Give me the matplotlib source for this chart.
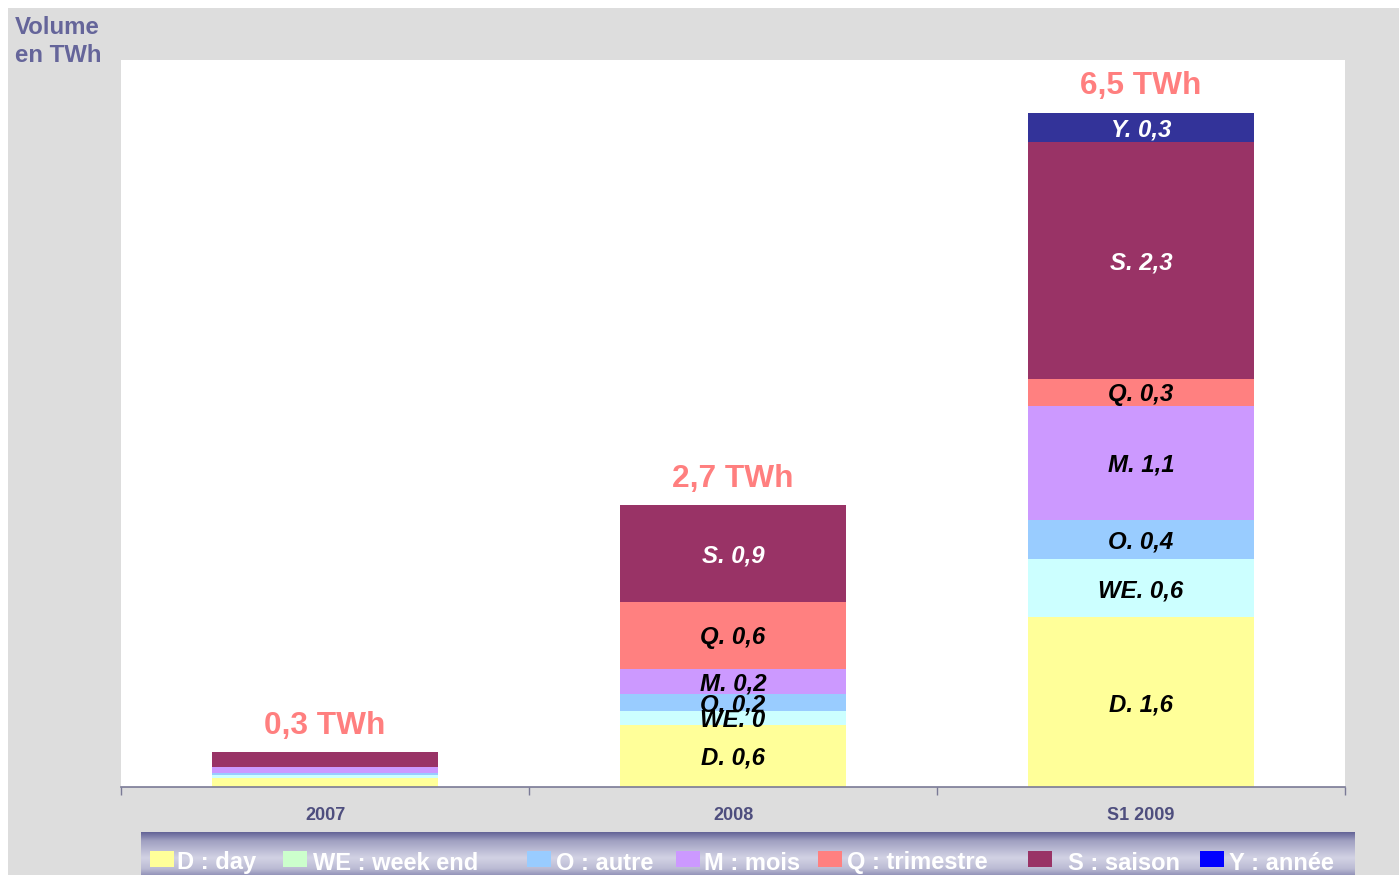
import numpy as np
import matplotlib
matplotlib.use("Agg")
import matplotlib.pyplot as plt
from matplotlib.patches import Rectangle

plt.rcParams['font.family'] = ['Liberation Sans', 'DejaVu Sans']

# ---------------- data ----------------
categories = ["2007", "2008", "S1 2009"]
segments = ["D", "WE", "O", "M", "Q", "S", "Y"]
values = {
    "D":  [0.090, 0.60, 1.64],
    "WE": [0.026, 0.135, 0.56],
    "O":  [0.019, 0.165, 0.38],
    "M":  [0.058, 0.24, 1.10],
    "Q":  [0.000, 0.65, 0.26],
    "S":  [0.145, 0.93, 2.29],
    "Y":  [0.000, 0.00, 0.28],
}
seg_labels = {
    "D":  [None, "D. 0,6", "D. 1,6"],
    "WE": [None, "WE. 0", "WE. 0,6"],
    "O":  [None, "O. 0,2", "O. 0,4"],
    "M":  [None, "M. 0,2", "M. 1,1"],
    "Q":  [None, "Q. 0,6", "Q. 0,3"],
    "S":  [None, "S. 0,9", "S. 2,3"],
    "Y":  [None, None, "Y. 0,3"],
}
total_labels = ["0,3 TWh", "2,7 TWh", "6,5 TWh"]
legend_labels = ["D : day", "WE : week end", "O : autre", "M : mois",
                 "Q : trimestre", "S : saison", "Y : année"]

bar_colors = {"D": "#FFFF99", "WE": "#CCFFFF", "O": "#99CCFF", "M": "#CC99FF",
              "Q": "#FF8080", "S": "#993366", "Y": "#333399"}
legend_colors = ["#FFFF99", "#CCFFCC", "#99CCFF", "#CC99FF", "#FF8080", "#993366", "#0000FF"]
label_colors = {"S": "white", "Y": "white"}

# ---------------- figure ----------------
W, H = 1399, 875
fig = plt.figure(figsize=(W / 100, H / 100), dpi=100)
fig.patch.set_facecolor("white")
fig.add_artist(Rectangle((8 / W, 0), 1 - 8 / W, (H - 8) / H, transform=fig.transFigure,
                         facecolor="#DDDDDD", edgecolor="none", zorder=0))

ax = fig.add_axes([121 / W, (H - 787) / H, (1345 - 121) / W, (787 - 60) / H])
ax.set_facecolor("white")
x = np.arange(len(categories))
bottom = np.zeros(len(categories))
width = 0.556
for seg in segments:
    v = np.array(values[seg])
    ax.bar(x, v, width, bottom=bottom, color=bar_colors[seg], edgecolor="none", zorder=2)
    for i in range(len(categories)):
        lab = seg_labels[seg][i]
        if lab:
            ax.annotate(lab, (x[i], bottom[i] + v[i] / 2), xytext=(0, -1.8),
                        textcoords="offset points", ha="center", va="center",
                        fontsize=17.3, fontweight="bold", fontstyle="italic",
                        color=label_colors.get(seg, "black"), zorder=3)
    bottom = bottom + v

for i in range(len(categories)):
    ax.annotate(total_labels[i], (x[i], bottom[i]), xytext=(0, 19),
                textcoords="offset points", ha="center", va="center",
                fontsize=22.8, fontweight="bold", color="#FF7F7F")

ax.set_xlim(-0.5, len(categories) - 0.5)
ax.set_ylim(0, 7.02)
for s in ["top", "right", "left"]:
    ax.spines[s].set_visible(False)
ax.spines["bottom"].set_color("#7A7A96")
ax.spines["bottom"].set_linewidth(1.2)
ax.set_yticks([])
ax.set_xticks(np.arange(-0.5, len(categories)), labels=[""] * (len(categories) + 1))
ax.tick_params(axis="x", which="major", length=6, color="#7A7A96", width=1)
ax.set_xticks(x, minor=True)
ax.set_xticklabels(categories, minor=True, fontsize=13, fontweight="bold", color="#4E4E7E")
ax.tick_params(axis="x", which="minor", length=0, pad=14.5)

fig.text(15 / W, 1 - 27 / H, "Volume", fontsize=17.3, fontweight="bold", color="#65659A",
         ha="left", va="center")
fig.text(15 / W, 1 - 56 / H, "en TWh", fontsize=17.3, fontweight="bold", color="#65659A",
         ha="left", va="center")

# ---------------- legend band ----------------
lx0, lx1, ly0, ly1 = 141, 1355, 832, 875
lax = fig.add_axes([lx0 / W, 0, (lx1 - lx0) / W, (ly1 - ly0) / H])
lax.set_xlim(lx0, lx1)
lax.set_ylim(ly1, ly0)
lax.axis("off")
t = np.linspace(0, 1, 200)
grad = np.interp(t, [0, 0.2, 0.6, 0.85, 1.0], [0.0, 0.55, 1.0, 0.8, 0.45])
c_dark = np.array([0x62, 0x62, 0x96]) / 255
c_light = np.array([0xD2, 0xD2, 0xE4]) / 255
img = c_dark[None, None, :] + (c_light - c_dark)[None, None, :] * grad[:, None, None]
img = np.repeat(img, 2, axis=1)
lax.imshow(img, extent=[lx0, lx1, ly1, ly0], aspect="auto", zorder=0)

patch_x = [150, 283, 527, 676, 818, 1028, 1200]
text_x = [177, 313, 556, 704, 847, 1068, 1229]
for px, tx, lab, col in zip(patch_x, text_x, legend_labels, legend_colors):
    lax.add_patch(Rectangle((px, 851), 24, 16, facecolor=col, edgecolor="none", zorder=2))
    lax.text(tx, 863, lab, ha="left", va="center", fontsize=17, fontweight="bold",
             color="white", zorder=3)

fig.savefig("out.png", dpi=100, facecolor=fig.get_facecolor())
